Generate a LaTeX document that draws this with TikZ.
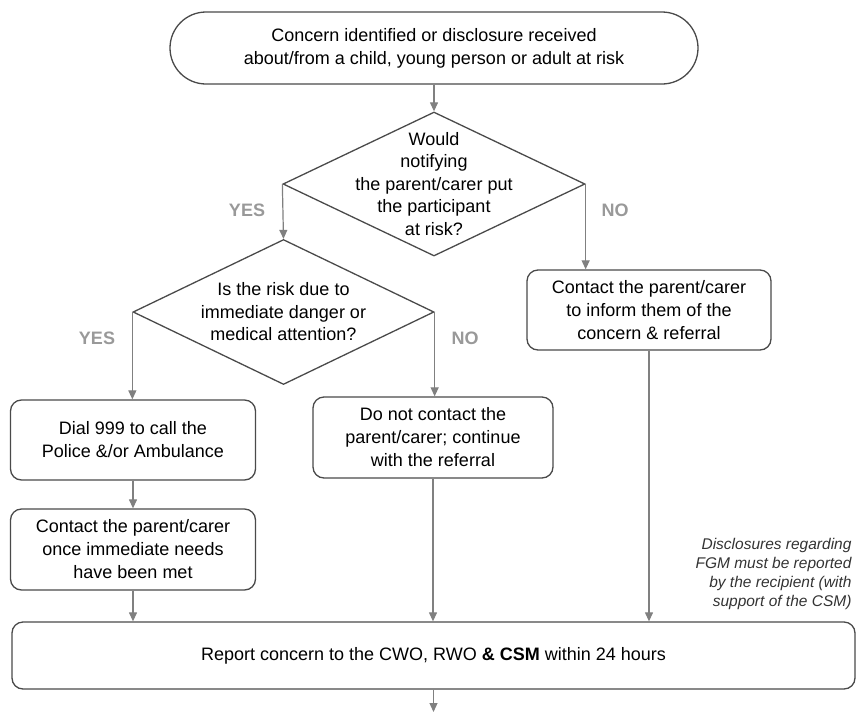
\documentclass[tikz,border=0pt]{standalone}
\usepackage{fontspec}
\setmainfont{Liberation Sans}
\usetikzlibrary{shapes.geometric,arrows.meta}

\definecolor{boxline}{HTML}{4A4A4A}
\definecolor{flowline}{HTML}{808080}
\definecolor{answer}{HTML}{999999}

\begin{document}
\begin{tikzpicture}[x=1pt, y=-1pt,
        every node/.style={font=\fontsize{18}{23}\selectfont, align=center},
        stepbox/.style={draw=boxline, line width=1.3pt, rounded corners=11pt, inner sep=0pt},
        question/.style={diamond, draw=boxline, line width=1.3pt, inner sep=0pt},
        flow/.style={draw=flowline, line width=1.2pt, -{Triangle[length=9pt, width=8pt]}},
        reply/.style={text=answer, font=\fontsize{18}{22}\selectfont\bfseries}]
        \useasboundingbox (0, 0) rectangle (857, 713);

        \node[stepbox, rounded corners=36pt, minimum width=528pt, minimum height=72pt] (start) at (434, 48)
                {Concern identified or disclosure received\\about/from a child, young person or adult at risk};

        \node[question, minimum width=302pt, minimum height=144pt,
                label={[align=center, font=\fontsize{18}{22.5}\selectfont]center:Would\\notifying\\the parent/carer put\\the participant\\at risk?}] (q1) at (434, 184) {};
        \node[question, minimum width=301pt, minimum height=145pt,
                label={[align=center, font=\fontsize{18}{22.5}\selectfont]center:Is the risk due to\\immediate danger or\\medical attention?}] (q2) at (283.5, 312) {};

        \node[stepbox, minimum width=245pt, minimum height=80pt] (dial) at (133, 440)
                {Dial 999 to call the\\Police \&/or Ambulance};
        \node[stepbox, minimum width=245pt, minimum height=81pt] (once) at (133, 549.5)
                {Contact the parent/carer\\once immediate needs\\have been met};
        \node[stepbox, minimum width=240pt, minimum height=81pt] (nocontact) at (433, 437.5)
                {Do not contact the\\parent/carer; continue\\with the referral};
        \node[stepbox, minimum width=244pt, minimum height=80pt] (inform) at (649, 310)
                {Contact the parent/carer\\to inform them of the\\concern \& referral};
        \node[stepbox, minimum width=843pt, minimum height=67pt] (report) at (433.5, 655.5)
                {Report concern to the CWO, RWO \textbf{\& CSM} within 24 hours};

        \node[reply] (yes1) at (247, 210) {YES};
        \node[reply] (no1) at (615, 210) {NO};
        \node[reply] (yes2) at (97, 338) {YES};
        \node[reply] (no2) at (465, 338) {NO};

        \node[anchor=east, align=right, font=\fontsize{15.5}{19}\selectfont\itshape, text=black!80] (fgm) at (855, 574)
                {Disclosures regarding\\FGM must be reported\\by the recipient (with\\support of the CSM)};

        \coordinate (onward) at (433.5, 712);

        \draw[flow] (start) -- (q1);
        \draw[flow] (q1.west) -- (q2.north);
        \draw[flow] (q1.east) -- (q1.east |- inform.north);
        \draw[flow] (q2.west) -- (q2.west |- dial.north);
        \draw[flow] (q2.east) -- (q2.east |- nocontact.north);
        \draw[flow] (dial) -- (once);
        \draw[flow] (once.south) -- (once.south |- report.north);
        \draw[flow] (nocontact.south) -- (nocontact.south |- report.north);
        \draw[flow] (inform.south) -- (inform.south |- report.north);
        \draw[flow] (report.south) -- (onward);
\end{tikzpicture}
\end{document}
